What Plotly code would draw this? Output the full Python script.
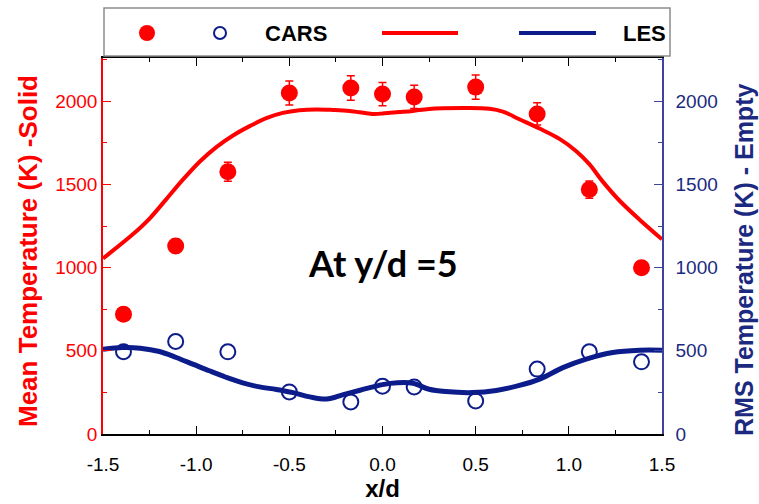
import plotly.graph_objects as go

# CARS measurements (symbols) at y/d = 5
cars_x = [-1.39, -1.11, -0.83, -0.5, -0.17, 0.0, 0.17, 0.5, 0.83, 1.11, 1.39]
cars_mean = [720, 1130, 1576, 2050, 2080, 2043, 2026, 2085, 1924, 1469, 999]
cars_mean_err = [25, 40, 57, 72, 74, 70, 70, 73, 67, 52, 35]
cars_rms = [495, 556, 494, 253, 193, 287, 283, 199, 390, 494, 434]

# LES profiles (lines)
les_mean_x = [-1.5, -1.34, -1.25, -1.16, -1.07, -0.98, -0.89, -0.80, -0.71, -0.62,
              -0.535, -0.446, -0.356, -0.267, -0.177, -0.087, -0.04, 0.01, 0.09,
              0.163, 0.25, 0.43, 0.574, 0.646, 0.735, 0.843, 0.95, 1.04, 1.11,
              1.18, 1.27, 1.38, 1.5]
les_mean = [1055, 1200, 1295, 1412, 1530, 1638, 1726, 1796, 1852, 1900,
            1930, 1946, 1951, 1948, 1942, 1928, 1923, 1928, 1935,
            1942, 1954, 1959, 1955, 1938, 1892, 1836, 1774, 1700, 1622,
            1520, 1405, 1288, 1170]
les_rms_x = [-1.5, -1.394, -1.30, -1.197, -1.107, -1.018, -0.93, -0.84, -0.75,
             -0.66, -0.57, -0.48, -0.39, -0.30, -0.21, -0.12, 0.0, 0.08, 0.163,
             0.25, 0.34, 0.485, 0.61, 0.735, 0.843, 0.968, 1.093, 1.236, 1.38, 1.5]
les_rms = [510, 520, 516, 496, 460, 420, 380, 341, 307,
           283, 268, 249, 223, 210, 237, 263, 297, 308, 305,
           269, 255, 249, 262, 292, 330, 399, 450, 490, 504, 504]

x_ticks = [-1.5, -1.0, -0.5, 0.0, 0.5, 1.0, 1.5]
x_tick_text = ["-1.5", "-1.0", "-0.5", "0.0", "0.5", "1.0", "1.5"]
y_ticks = [0, 500, 1000, 1500, 2000]

RED = "#ff0000"
NAVY = "#0c1c8a"
NAVY_AXIS = "#3c44a0"
NAVY_TEXT = "#1b2a80"
FONT = "Arial, Liberation Sans, sans-serif"

# plot frame in pixels: left 103, right 662, top 58, bottom 434
def px_x(px):
    return (px - 103) / 559


def px_y(py):
    return (434 - py) / 376


fig = go.Figure()

fig.add_trace(go.Scatter(
    x=les_mean_x, y=les_mean, mode="lines",
    line=dict(color=RED, width=4, shape="spline", smoothing=1.0),
    showlegend=False, hoverinfo="skip"))
fig.add_trace(go.Scatter(
    x=les_rms_x, y=les_rms, mode="lines", yaxis="y2",
    line=dict(color=NAVY, width=5, shape="spline", smoothing=1.0),
    showlegend=False, hoverinfo="skip"))
fig.add_trace(go.Scatter(
    x=cars_x, y=cars_mean, mode="markers",
    marker=dict(color=RED, size=17, line=dict(width=0)),
    error_y=dict(type="data", array=cars_mean_err, color=RED, thickness=1.5, width=4),
    showlegend=False))
fig.add_trace(go.Scatter(
    x=cars_x, y=cars_rms, mode="markers", yaxis="y2",
    marker=dict(color="rgba(255,255,255,0)", size=15,
                line=dict(color=NAVY, width=2)),
    showlegend=False))

# Legend strip above the plot frame
LY = px_y(33)
shapes = [
    dict(type="rect", xref="paper", yref="paper", x0=px_x(104), x1=px_x(670),
         y0=px_y(56), y1=px_y(8),
         line=dict(color="#8c8c8c", width=1.5), fillcolor="white"),
    dict(type="circle", xref="paper", yref="paper", xsizemode="pixel", ysizemode="pixel",
         xanchor=px_x(147), yanchor=LY, x0=-8, x1=8, y0=-8, y1=8,
         fillcolor=RED, line=dict(width=0)),
    dict(type="circle", xref="paper", yref="paper", xsizemode="pixel", ysizemode="pixel",
         xanchor=px_x(220), yanchor=LY, x0=-6, x1=6, y0=-6, y1=6,
         fillcolor="white", line=dict(color=NAVY, width=2)),
    dict(type="line", xref="paper", yref="paper",
         x0=px_x(382), x1=px_x(458), y0=LY, y1=LY,
         line=dict(color=RED, width=4)),
    dict(type="line", xref="paper", yref="paper",
         x0=px_x(519), x1=px_x(596), y0=LY, y1=LY,
         line=dict(color=NAVY, width=4)),
]

annotations = [
    dict(text="<b>CARS</b>", xref="paper", yref="paper", x=px_x(296),
         y=LY, showarrow=False, xanchor="center", yanchor="middle",
         font=dict(family=FONT, size=22, color="black")),
    dict(text="<b>LES</b>", xref="paper", yref="paper", x=px_x(644),
         y=LY, showarrow=False, xanchor="center", yanchor="middle",
         font=dict(family=FONT, size=22, color="black")),
    dict(text="<b>At y/d =5</b>", x=0.0, y=1030, xref="x", yref="y", showarrow=False,
         xanchor="center", yanchor="middle",
         font=dict(family="Lato, sans-serif", size=36, color="black")),
    # axis titles
    dict(text="<b>Mean Temperature (K) -Solid</b>", xref="paper", yref="paper",
         x=px_x(28), y=px_y(251), textangle=-90, showarrow=False,
         xanchor="center", yanchor="middle", borderpad=0,
         font=dict(family=FONT, size=26, color=RED)),
    dict(text="<b>RMS Temperature (K) - Empty</b>", xref="paper", yref="paper",
         x=px_x(744), y=px_y(260), textangle=-90, showarrow=False,
         xanchor="center", yanchor="middle", borderpad=0,
         font=dict(family=FONT, size=25, color=NAVY_TEXT)),
]

fig.update_layout(
    width=759, height=504,
    margin=dict(l=103, r=97, t=58, b=70, autoexpand=False),
    paper_bgcolor="white", plot_bgcolor="white",
    font=dict(family=FONT),
    shapes=shapes, annotations=annotations,
    xaxis=dict(
        range=[-1.5, 1.5], tickvals=x_ticks, ticktext=x_tick_text,
        ticks="inside", ticklen=8, tickwidth=1, tickcolor="black",
        minor=dict(dtick=0.25, ticks="inside", ticklen=4, tickcolor="black"),
        showline=True, linecolor="black", linewidth=1.5, mirror="ticks",
        showgrid=False, zeroline=False, ticklabelstandoff=12, automargin=False,
        tickfont=dict(family=FONT, size=19, color="black"),
        title=dict(text="<b>x/d</b>", font=dict(family=FONT, size=24, color="black"),
                   standoff=6),
    ),
    yaxis=dict(
        range=[0, 2260], tickvals=y_ticks,
        ticks="inside", ticklen=8, tickwidth=1, tickcolor=RED,
        minor=dict(dtick=250, ticks="inside", ticklen=4, tickcolor=RED),
        showline=True, linecolor=RED, linewidth=1.5,
        showgrid=False, zeroline=False, automargin=False,
        tickfont=dict(family=FONT, size=19, color=RED),
    ),
    yaxis2=dict(
        range=[0, 2260], tickvals=y_ticks, overlaying="y", side="right",
        ticks="inside", ticklen=8, tickwidth=1, tickcolor=NAVY_AXIS,
        minor=dict(dtick=250, ticks="inside", ticklen=4, tickcolor=NAVY_AXIS),
        showline=True, linecolor=NAVY_AXIS, linewidth=1.5,
        showgrid=False, zeroline=False, ticklabelstandoff=8, automargin=False,
        tickfont=dict(family=FONT, size=19, color=NAVY_TEXT),
    ),
)

fig.write_html("out.html")
